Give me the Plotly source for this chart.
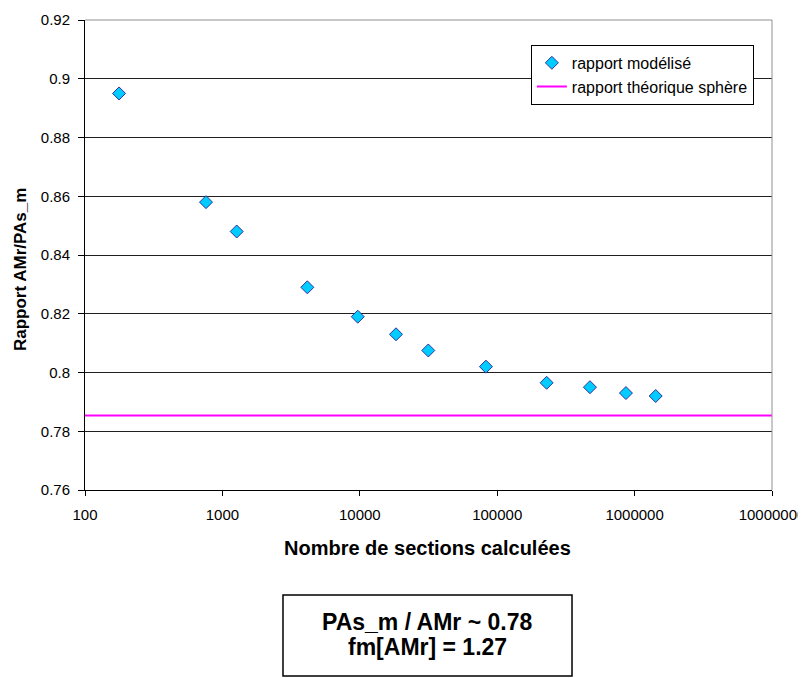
import plotly.graph_objects as go

# Data
sections = [177, 760, 1271, 4150, 9660, 18340, 31510, 82800, 229000, 473000, 865000, 1424000]
rapport = [0.895, 0.858, 0.848, 0.829, 0.819, 0.813, 0.8075, 0.802, 0.7965, 0.795, 0.793, 0.792]
sphere_x = [100, 10000000]
sphere_y = [0.7854, 0.7854]

x_ticks = [100, 1000, 10000, 100000, 1000000, 10000000]
x_ticktext = ["100", "1000", "10000", "100000", "1000000", "10000000"]
y_ticks = [0.76, 0.78, 0.80, 0.82, 0.84, 0.86, 0.88, 0.90, 0.92]
y_ticktext = ["0.76", "0.78", "0.8", "0.82", "0.84", "0.86", "0.88", "0.9", "0.92"]

FONT = "Liberation Sans, Arial, sans-serif"

fig = go.Figure()
fig.add_trace(go.Scatter(
    x=sections, y=rapport, mode="markers", name="rapport modélisé",
    marker=dict(symbol="diamond", size=10, color="#00CCFF",
                line=dict(color="#333399", width=1)),
))
fig.add_trace(go.Scatter(
    x=sphere_x, y=sphere_y, mode="lines", name="rapport théorique sphère",
    line=dict(color="#FF00FF", width=2),
))

fig.update_layout(
    width=798, height=670,
    margin=dict(l=77, r=34, t=12, b=188, autoexpand=False),
    paper_bgcolor="white", plot_bgcolor="white",
    font=dict(family=FONT, size=15, color="black"),
    showlegend=True,
    legend=dict(x=0.649, y=0.947, xanchor="left", yanchor="top",
                bgcolor="white", bordercolor="black", borderwidth=1,
                font=dict(size=16), tracegroupgap=0, itemwidth=30),
    xaxis=dict(type="log", range=[2, 7], tickvals=x_ticks, ticktext=x_ticktext,
               automargin=False,
               showgrid=False, zeroline=False, showline=True, linecolor="black",
               linewidth=1, ticks="outside", ticklen=5, tickcolor="black",
               ticklabelstandoff=6, tickfont=dict(size=15)),
    yaxis=dict(range=[0.76, 0.92], tickvals=y_ticks, ticktext=y_ticktext,
               automargin=False,
               showgrid=True, gridcolor="#202020", gridwidth=1, zeroline=False,
               showline=True, linecolor="black", linewidth=1, ticks="outside",
               ticklen=6, tickcolor="black", ticklabelstandoff=5,
               tickfont=dict(size=15)),
    shapes=[
        dict(type="line", xref="paper", yref="paper", x0=0, x1=1, y0=1, y1=1,
             line=dict(color="#909090", width=1), layer="above"),
        dict(type="line", xref="paper", yref="paper", x0=1, x1=1, y0=0, y1=1,
             line=dict(color="#909090", width=1), layer="above"),
        dict(type="rect", xref="paper", yref="paper", x0=0.2882, x1=0.7089,
             y0=-0.3957, y1=-0.2234, line=dict(color="black", width=1.5),
             fillcolor="white", layer="above"),
    ],
    annotations=[
        dict(text="<b>Nombre de sections calculées</b>", xref="paper", yref="paper",
             x=0.4985, y=-0.1234, xanchor="center", yanchor="middle",
             showarrow=False, font=dict(size=20)),
        dict(text="<b>Rapport AMr/PAs_m</b>", xref="paper", yref="paper",
             x=-0.0946, y=0.468, xanchor="center", yanchor="middle", textangle=-90,
             showarrow=False, font=dict(size=17)),
        dict(text="<b>PAs_m / AMr ~ 0.78</b>", xref="paper", yref="paper",
             x=0.4985, y=-0.2809, xanchor="center", yanchor="middle",
             showarrow=False, font=dict(size=23)),
        dict(text="<b>fm[AMr] = 1.27</b>", xref="paper", yref="paper",
             x=0.4985, y=-0.3340, xanchor="center", yanchor="middle",
             showarrow=False, font=dict(size=23)),
    ],
)

fig.write_html("out.html")
